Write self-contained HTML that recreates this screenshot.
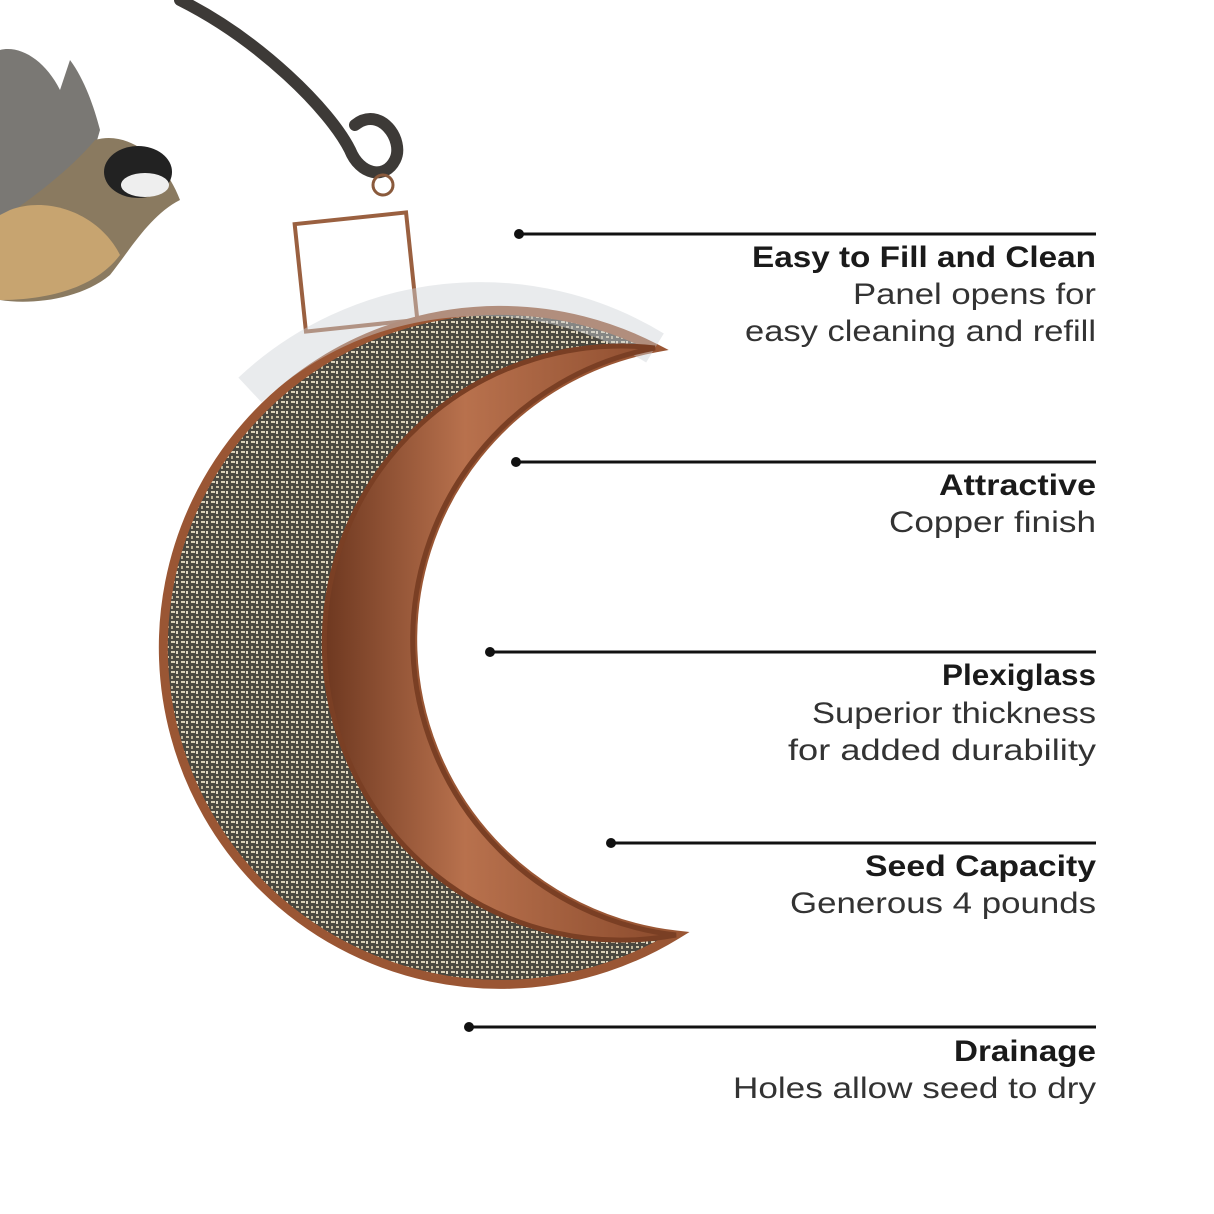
<!DOCTYPE html>
<html><head><meta charset="utf-8"><style>
html,body{margin:0;padding:0;background:#fff;}
svg{display:block}
text{font-family:"Liberation Sans",sans-serif;fill:#1a1a1a;font-size:30px}
.b{font-weight:bold}
.r{fill:#333}
</style></head><body>
<svg width="1214" height="1214" viewBox="0 0 1214 1214">
<defs>
<linearGradient id="cu" x1="0" x2="1" y1="0" y2="0">
<stop offset="0" stop-color="#6e3820"/><stop offset="0.4" stop-color="#b8714d"/><stop offset="1" stop-color="#8a4a2c"/>
</linearGradient>
<pattern id="seed" width="10" height="10" patternUnits="userSpaceOnUse">
<rect width="10" height="10" fill="#4a4840"/>
<rect x="1" y="1" width="4" height="2" fill="#d8cfb5"/>
<rect x="6" y="6" width="3" height="2" fill="#cfc4a5"/>
<rect x="6" y="1" width="2" height="3" fill="#e0d8c2"/>
<rect x="1" y="6" width="2" height="3" fill="#bfb498"/>
</pattern>
</defs>
<!-- hook -->
<path d="M180,0 C260,40 330,110 350,150 C360,175 385,180 395,160 C405,140 380,105 355,125" fill="none" stroke="#3d3a37" stroke-width="12" stroke-linecap="round"/>
<circle cx="383" cy="185" r="10" fill="none" stroke="#8a5a3c" stroke-width="3"/>
<rect x="300" y="218" width="112" height="108" fill="none" stroke="#9a6040" stroke-width="4" transform="rotate(-6 356 272)"/>
<!-- bird -->
<path d="M0,50 C20,45 45,60 60,90 L70,60 C85,80 95,110 100,130 L80,200 L0,230Z" fill="#7a7874"/>
<path d="M95,140 C130,130 165,160 180,200 C150,215 130,250 110,275 C80,300 30,305 0,300 L0,220 C30,200 70,170 95,140Z" fill="#8a7a60"/>
<ellipse cx="138" cy="172" rx="34" ry="26" fill="#222"/>
<ellipse cx="145" cy="185" rx="24" ry="12" fill="#eee"/>
<path d="M10,210 C50,195 100,215 120,255 C90,295 30,300 0,300 L0,215Z" fill="#c7a470"/>
<!-- feeder -->
<path d="M655,348 A337,337 0 1 0 676,935 A297,297 0 0 1 655,348 Z" fill="url(#seed)" stroke="#9a5634" stroke-width="9"/>
<path d="M655,348 A337,337 0 0 0 250,390" fill="none" stroke="#cfd3d6" stroke-width="34" opacity="0.45"/>
<path d="M655,348 A297,297 0 1 0 676,935 A297,297 0 0 1 655,348 Z" fill="url(#cu)" stroke="#7a3f24" stroke-width="5"/>
<!-- lines -->
<g stroke="#111" stroke-width="3">
<line x1="519" y1="234" x2="1096" y2="234"/>
<line x1="516" y1="462" x2="1096" y2="462"/>
<line x1="490" y1="652" x2="1096" y2="652"/>
<line x1="611" y1="843" x2="1096" y2="843"/>
<line x1="469" y1="1027" x2="1096" y2="1027"/>
</g>
<g fill="#111">
<circle cx="519" cy="234" r="5"/><circle cx="516" cy="462" r="5"/><circle cx="490" cy="652" r="5"/><circle cx="611" cy="843" r="5"/><circle cx="469" cy="1027" r="5"/>
</g>
<g text-anchor="start">
<text class="b" x="752" y="267" textLength="344" lengthAdjust="spacingAndGlyphs">Easy to Fill and Clean</text>
<text class="r" x="853" y="304" textLength="243" lengthAdjust="spacingAndGlyphs">Panel opens for</text>
<text class="r" x="745" y="341" textLength="351" lengthAdjust="spacingAndGlyphs">easy cleaning and refill</text>
<text class="b" x="939" y="495" textLength="157" lengthAdjust="spacingAndGlyphs">Attractive</text>
<text class="r" x="889" y="532" textLength="207" lengthAdjust="spacingAndGlyphs">Copper finish</text>
<text class="b" x="942" y="685" textLength="154" lengthAdjust="spacingAndGlyphs">Plexiglass</text>
<text class="r" x="812" y="723" textLength="284" lengthAdjust="spacingAndGlyphs">Superior thickness</text>
<text class="r" x="788" y="760" textLength="308" lengthAdjust="spacingAndGlyphs">for added durability</text>
<text class="b" x="865" y="876" textLength="231" lengthAdjust="spacingAndGlyphs">Seed Capacity</text>
<text class="r" x="790" y="913" textLength="306" lengthAdjust="spacingAndGlyphs">Generous 4 pounds</text>
<text class="b" x="954" y="1061" textLength="142" lengthAdjust="spacingAndGlyphs">Drainage</text>
<text class="r" x="733" y="1098" textLength="363" lengthAdjust="spacingAndGlyphs">Holes allow seed to dry</text>
</g>
</svg>
</body></html>
